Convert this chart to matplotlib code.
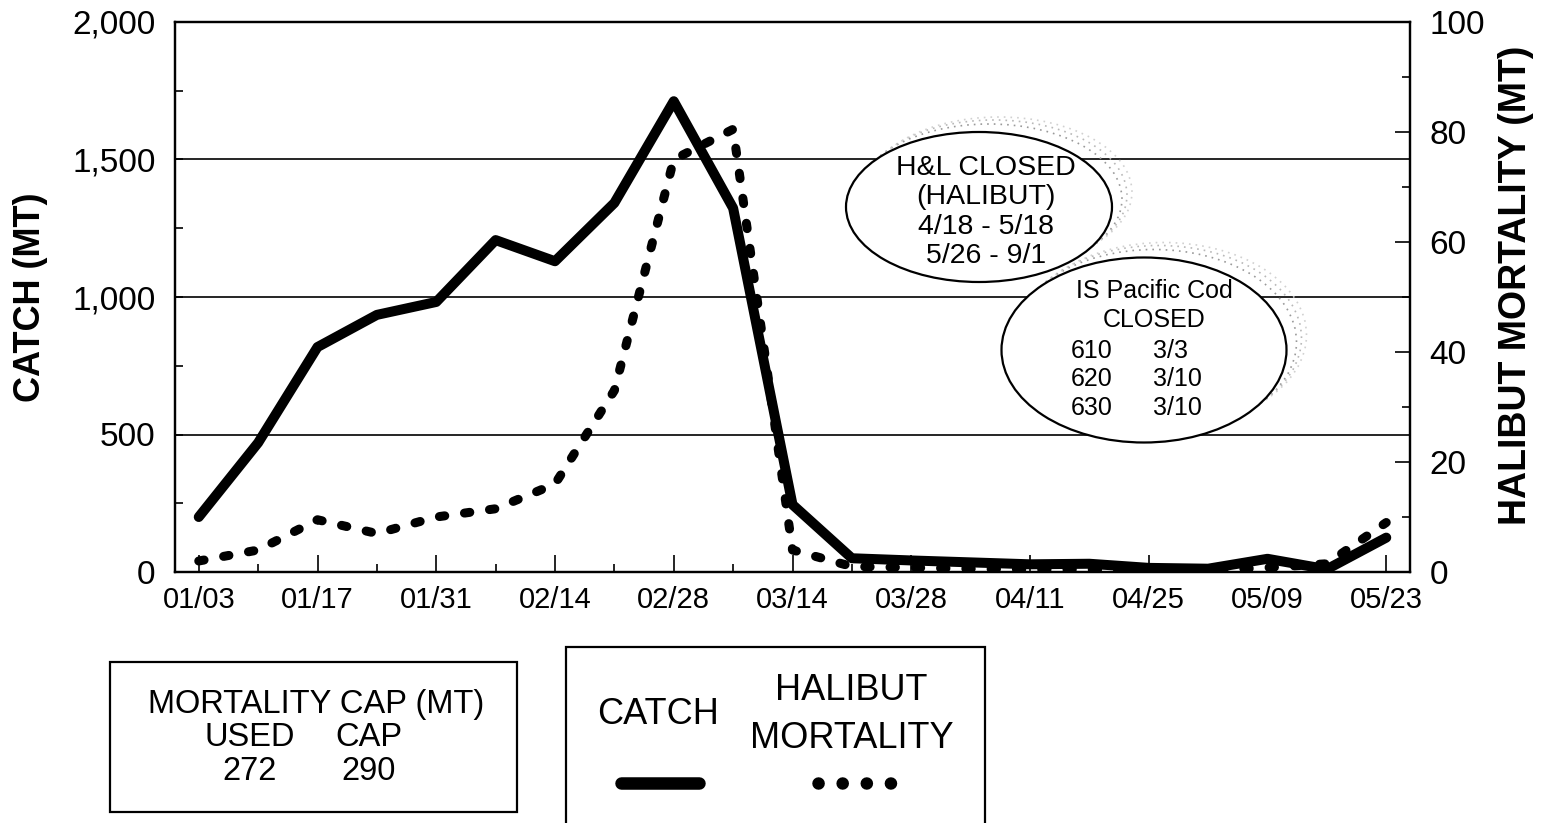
import matplotlib
matplotlib.use('Agg')
import matplotlib.pyplot as plt
import numpy as np
from matplotlib.patches import Ellipse, Rectangle
from matplotlib.lines import Line2D
from matplotlib import font_manager
from matplotlib.ticker import FuncFormatter, MultipleLocator

# weekly data
weeks = ['01/03', '01/10', '01/17', '01/24', '01/31', '02/07', '02/14', '02/21',
         '02/28', '03/07', '03/14', '03/21', '03/28', '04/04', '04/11', '04/18',
         '04/25', '05/02', '05/09', '05/16', '05/23']
catch = [200, 470, 818, 935, 982, 1207, 1130, 1342, 1712, 1323, 245,
         50, 42, 35, 28, 30, 15, 12, 48, 10, 125]
halibut = [2, 4, 9.5, 7, 10, 11.5, 16, 33, 75, 80.5, 4,
           1, 0.8, 0.6, 0.5, 0.5, 0.3, 0.3, 0.8, 1.5, 9]
tick_labels = weeks[::2]

W, H = 1544, 823
plt.rcParams['font.family'] = 'Liberation Sans'

names = {f.name for f in font_manager.fontManager.ttflist}
narrow = 'Liberation Sans Narrow' in names


def fx(px):
    return px / W


def fy(py):
    return 1 - py / H


fig = plt.figure(figsize=(W / 100, H / 100), dpi=100)
ax = fig.add_axes([fx(175), fy(572), (1410 - 175) / W, (572 - 22) / H])
ax2 = ax.twinx()

x = np.arange(len(weeks))
ax.plot(x, catch, color='black', lw=7.2, solid_joinstyle='round',
        solid_capstyle='round', zorder=3)
ax2.plot(x, halibut, color='black', lw=6.5, linestyle=(0, (0.6, 2.2)),
         dash_capstyle='round', zorder=3)

ax.set_xlim(-0.4, len(weeks) - 0.6)
ax.set_ylim(0, 2000)
ax2.set_ylim(0, 100)

ax.set_xticks(x[::2])
ax.set_xticklabels(tick_labels)
ax.xaxis.set_minor_locator(MultipleLocator(1))
ax.set_yticks([0, 500, 1000, 1500, 2000])
ax.yaxis.set_major_formatter(FuncFormatter(lambda v, p: f'{v:,.0f}'))
ax.yaxis.set_minor_locator(MultipleLocator(250))
ax2.set_yticks([0, 20, 40, 60, 80, 100])
ax2.yaxis.set_minor_locator(MultipleLocator(10))

ax.tick_params(axis='x', which='major', direction='in', length=12, width=1.2,
               labelsize=21, pad=10)
ax.tick_params(axis='x', which='minor', direction='in', length=6, width=1.2)
ax.tick_params(axis='y', which='major', direction='in', length=6, width=1.2,
               labelsize=24, pad=14)
ax.tick_params(axis='y', which='minor', direction='in', length=6, width=1.2)
ax2.tick_params(axis='y', which='major', direction='in', length=11, width=1.2,
                labelsize=24, pad=14)
ax2.tick_params(axis='y', which='minor', direction='in', length=6, width=1.2)

ax.yaxis.grid(True, which='major', color='black', lw=1.2)
ax.set_axisbelow(True)
for a in (ax, ax2):
    for s in a.spines.values():
        s.set_linewidth(1.6)

fig.text(fx(31), fy(297), 'CATCH (MT)', rotation=90, ha='center', va='center',
         fontsize=26, fontweight='bold')
fig.text(fx(1516), fy(285), 'HALIBUT MORTALITY (MT)', rotation=90, ha='center',
         va='center', fontsize=27, fontweight='bold')

# closure notes in ellipses with stippled shadow
for cx, cy, ew, eh in [(979, 207, 266, 150), (1144, 350, 285, 185)]:
    for dx, dy, col in [(10, -8, '0.6'), (15, -12, '0.72'), (20, -15, '0.82')]:
        fig.add_artist(Ellipse((fx(cx + dx), fy(cy + dy)), ew / W, eh / H,
                               transform=fig.transFigure, fill=False,
                               edgecolor=col, lw=1.2, linestyle=(0, (1, 3)),
                               zorder=4))
    fig.add_artist(Ellipse((fx(cx), fy(cy)), ew / W, eh / H,
                           transform=fig.transFigure, facecolor='white',
                           edgecolor='black', lw=1.6, zorder=5))

fig.text(fx(986), fy(212), 'H&L CLOSED\n(HALIBUT)\n4/18 - 5/18\n5/26 - 9/1',
         ha='center', va='center', fontsize=20.5, linespacing=1.18, zorder=6)
fig.text(fx(1154), fy(291), 'IS Pacific Cod', ha='center', va='center',
         fontsize=18, zorder=6)
fig.text(fx(1154), fy(320), 'CLOSED', ha='center', va='center',
         fontsize=18, zorder=6)
areas = ['610', '620', '630']
closed = ['3/3', '3/10', '3/10']
for i, (a, d) in enumerate(zip(areas, closed)):
    fig.text(fx(1071), fy(351 + 28.5 * i), a, ha='left', va='center',
             fontsize=18, zorder=6)
    fig.text(fx(1153), fy(351 + 28.5 * i), d, ha='left', va='center',
             fontsize=18, zorder=6)

# cap box
fig.add_artist(Rectangle((fx(110), fy(812)), 407 / W, 150 / H,
                         transform=fig.transFigure, fill=False, lw=1.6))
if narrow:
    bfam, bsize = 'Liberation Sans Narrow', 27
else:
    bfam, bsize = 'Liberation Sans', 23.5
fig.text(fx(316), fy(704), 'MORTALITY CAP (MT)', ha='center', va='center',
         fontsize=bsize, family=bfam)
fig.text(fx(250), fy(738), 'USED', ha='center', va='center', fontsize=bsize, family=bfam)
fig.text(fx(369), fy(738), 'CAP', ha='center', va='center', fontsize=bsize, family=bfam)
fig.text(fx(250), fy(772), '272', ha='center', va='center', fontsize=bsize, family=bfam)
fig.text(fx(369), fy(772), '290', ha='center', va='center', fontsize=bsize, family=bfam)

# legend box
fig.add_artist(Rectangle((fx(566), fy(840)), 419 / W, 193 / H,
                         transform=fig.transFigure, fill=False, lw=1.6))
lsize = 26 if not narrow else 30
fig.text(fx(658), fy(714), 'CATCH', ha='center', va='center', fontsize=lsize, family=bfam)
fig.text(fx(851), fy(690), 'HALIBUT', ha='center', va='center', fontsize=lsize, family=bfam)
fig.text(fx(852), fy(738), 'MORTALITY', ha='center', va='center', fontsize=lsize, family=bfam)
fig.add_artist(Line2D([fx(621), fx(699)], [fy(783), fy(783)], transform=fig.transFigure,
                      color='black', lw=9, solid_capstyle='round'))
fig.add_artist(Line2D([fx(818), fx(891)], [fy(783), fy(783)], transform=fig.transFigure,
                      color='black', lw=9, linestyle=(0, (0.01, 1.92)),
                      dash_capstyle='round'))

fig.savefig('out.png', dpi=100)
